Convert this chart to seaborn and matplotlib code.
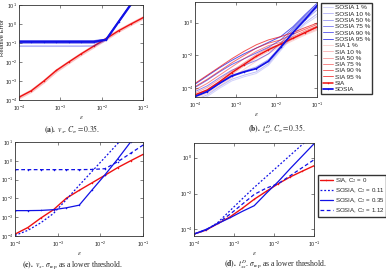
import numpy as np
import pandas as pd
import matplotlib
matplotlib.use("Agg")
import matplotlib.pyplot as plt
import seaborn as sns

# ---- data ----
# step sizes epsilon
eps = [1e-4, 2e-4, 4e-4, 8e-4, 1.6e-3, 3.2e-3, 6.4e-3, 1.28e-2, 2.56e-2, 5.12e-2, 1.024e-1]

# (a) relative error of v_x, C_sigma = 0.35
sia_a = [1.4e-4, 3.1e-4, 1.0e-3, 3.6e-3, 1.0e-2, 2.7e-2, 6.8e-2, 0.17, 0.44, 1.0, 2.2]
sia_a_band = [1.3e-4, 2.9e-4, 0.9e-3, 3.3e-3, 0.92e-2, 2.5e-2, 6.3e-2, 0.16, 0.42, 0.95, 2.1]
sosia_a = [0.115, 0.115, 0.115, 0.115, 0.115, 0.115, 0.115, 0.15, 1.3, 11.0, 100.0]
sosia_a_lo = [0.068, 0.068, 0.068, 0.068, 0.068, 0.068, 0.07, 0.14, 1.2, 10.0, 90.0]
sosia_a_mid = [0.10, 0.10, 0.10, 0.10, 0.10, 0.10, 0.10, 0.145, 1.25, 10.5, 95.0]
sosia_a_hi = [0.13, 0.13, 0.13, 0.13, 0.13, 0.13, 0.13, 0.155, 1.35, 11.5, 105.0]

# (b) t^D_xx, C_sigma = 0.35 -- values given as log10 exponents
pct = ["1", "10", "50", "75", "90", "95"]
sosia_b_pct = [
    [-4.8, -4.5, -4.0, -3.55, -3.3, -3.1, -2.6, -1.7, -0.8, -0.1, 0.4],
    [-4.7, -4.4, -3.9, -3.45, -3.2, -3.0, -2.5, -1.6, -0.7, 0.0, 0.55],
    [-4.5, -4.15, -3.65, -3.2, -2.95, -2.7, -2.25, -1.45, -0.6, 0.15, 0.8],
    [-4.2, -3.85, -3.35, -2.9, -2.6, -2.3, -1.9, -1.25, -0.45, 0.3, 0.95],
    [-3.95, -3.5, -3.0, -2.55, -2.2, -1.85, -1.5, -1.05, -0.35, 0.4, 1.1],
    [-3.75, -3.25, -2.75, -2.3, -1.9, -1.55, -1.2, -0.85, -0.25, 0.5, 1.2],
]
sia_b_pct = [
    [-4.6, -4.3, -3.85, -3.35, -2.85, -2.35, -1.9, -1.45, -1.1, -0.75, -0.45],
    [-4.45, -4.15, -3.65, -3.15, -2.65, -2.15, -1.75, -1.38, -1.02, -0.68, -0.38],
    [-4.3, -3.95, -3.45, -2.95, -2.45, -1.95, -1.55, -1.3, -0.95, -0.6, -0.3],
    [-4.1, -3.7, -3.2, -2.7, -2.2, -1.75, -1.4, -1.2, -0.85, -0.5, -0.2],
    [-3.9, -3.45, -2.95, -2.45, -2.0, -1.55, -1.25, -1.05, -0.7, -0.4, -0.1],
    [-3.7, -3.2, -2.7, -2.2, -1.75, -1.35, -1.05, -0.85, -0.6, -0.3, -0.02],
]
sia_b = [-4.4, -4.1, -3.6, -3.05, -2.55, -2.05, -1.65, -1.3, -0.95, -0.6, -0.25]
sosia_b = [-4.5, -4.2, -3.7, -3.25, -3.0, -2.8, -2.35, -1.5, -0.6, 0.2, 1.05]

# (c) v_x, sigma_rep as lower threshold (log10)
sia_c = [-3.9, -3.55, -3.05, -2.6, -1.99, -1.57, -1.17, -0.77, -0.36, 0.0, 0.35]
sosia_c_011 = [-3.97, -3.7, -3.3, -2.8, -2.06, -1.3, -0.56, 0.18, 0.92, 1.66, 2.4]
sosia_c_035 = [-2.65, -2.65, -2.64, -2.6, -2.5, -2.36, -1.55, -0.75, 0.1, 1.0, 1.9]
sosia_c_112 = [-0.47, -0.47, -0.47, -0.47, -0.47, -0.47, -0.46, -0.42, -0.05, 0.4, 0.85]

# (d) t^D_xx, sigma_rep as lower threshold (log10)
sia_d = [-4.26, -4.04, -3.67, -3.3, -2.83, -2.32, -1.88, -1.45, -1.07, -0.75, -0.44]
sosia_d_011 = [-4.26, -4.05, -3.6, -2.95, -2.3, -1.66, -1.06, -0.46, 0.14, 0.74, 1.34]
sosia_d_035 = [-4.26, -4.0, -3.67, -3.35, -3.0, -2.68, -1.99, -1.33, -0.6, 0.1, 0.8]
sosia_d_112 = [-4.26, -4.03, -3.64, -3.15, -2.6, -2.05, -1.7, -1.45, -1.0, -0.55, -0.1]

RED = "#ee1111"
BLUE = "#1111e6"

sns.set_style("ticks")
plt.rcParams["font.family"] = ["Liberation Sans", "DejaVu Sans"]
plt.rcParams["mathtext.fontset"] = "stix"
plt.rcParams["xtick.direction"] = "in"
plt.rcParams["ytick.direction"] = "in"
plt.rcParams["xtick.major.size"] = 2
plt.rcParams["ytick.major.size"] = 2
plt.rcParams["xtick.major.width"] = 0.4
plt.rcParams["ytick.major.width"] = 0.4
plt.rcParams["axes.linewidth"] = 0.6

W, H = 386, 270
fig = plt.figure(figsize=(W / 100, H / 100), dpi=100)


def box(l, t, r, b):
    return [l / W, 1 - b / H, (r - l) / W, (b - t) / H]


def line(ax, y, color, lw=0.9, ls="-", marker=None, alpha=1.0, label=None, log=False):
    yy = np.power(10.0, y) if log else np.asarray(y)
    sns.lineplot(x=eps, y=yy, ax=ax, color=color, linewidth=lw, linestyle=ls,
                 marker=marker, markersize=2.2, markeredgewidth=0, alpha=alpha,
                 label=label, legend=False, estimator=None, sort=False)


def style(ax, ylim, yticks):
    ax.set_xscale("log")
    ax.set_yscale("log")
    ax.set_xlim(1e-4, 1e-1)
    ax.set_ylim(*ylim)
    ax.set_xticks([1e-4, 1e-3, 1e-2, 1e-1])
    ax.set_yticks(yticks)
    ax.minorticks_off()
    ax.tick_params(labelsize=3.9, pad=1.5, top=True, right=True)
    ax.tick_params(axis="x", pad=2.6)
    ax.set_xlabel(r"$\epsilon$", fontsize=5, labelpad=1)
    ax.set_ylabel("")
    for s in ax.spines.values():
        s.set_color("#333333")


# (a)
ax_a = fig.add_axes(box(19, 5, 143, 100))
line(ax_a, sia_a_band, RED, lw=2.4, alpha=0.25)
line(ax_a, sia_a, RED, lw=1.0, marker=".")
line(ax_a, sosia_a_lo, BLUE, lw=1.2, alpha=0.3)
line(ax_a, sosia_a_mid, BLUE, lw=1.0, alpha=0.6)
line(ax_a, sosia_a_hi, BLUE, lw=1.0, alpha=0.7)
line(ax_a, sosia_a, BLUE, lw=1.5, marker=".")
style(ax_a, (1e-4, 1e1), [1e-4, 1e-3, 1e-2, 1e-1, 1e0, 1e1])
fig.text(0.5 / W, 1 - 38 / H, "Relative Error", rotation=90, fontsize=4.3,
         ha="left", va="center")

# (b)
ax_b = fig.add_axes(box(195, 2, 317, 97))
alphas = [0.18, 0.28, 0.38, 0.5, 0.62, 0.72]
for p, ys, a in zip(pct, sosia_b_pct, alphas):
    line(ax_b, ys, BLUE, lw=0.7, alpha=a, label=f"SOSIA {p} %", log=True)
for p, ys, a in zip(pct, sia_b_pct, alphas):
    line(ax_b, ys, RED, lw=0.7, alpha=a, label=f"SIA {p} %", log=True)
line(ax_b, sia_b, RED, lw=1.1, marker=".", label="SIA", log=True)
line(ax_b, sosia_b, BLUE, lw=1.3, marker=".", label="SOSIA", log=True)
style(ax_b, (10 ** -4.53, 10 ** 1.26), [1e-4, 1e-2, 1e0])
h, l = ax_b.get_legend_handles_labels()
fig.legend(h, l, loc="upper left", bbox_to_anchor=(321 / W, 1 - 3 / H),
           fontsize=4.6, frameon=True, fancybox=False, edgecolor="#333333",
           framealpha=1, handlelength=1.5, handletextpad=0.4, labelspacing=0.13,
           borderpad=0.3, borderaxespad=0)

# (c)
ax_c = fig.add_axes(box(15, 142, 143, 236))
line(ax_c, sia_c, RED, lw=1.0, marker=".", log=True)
line(ax_c, sosia_c_011, BLUE, lw=0.9, ls=(0, (1.5, 1.5)), log=True)
line(ax_c, sosia_c_035, BLUE, lw=0.9, marker=".", log=True)
line(ax_c, sosia_c_112, BLUE, lw=0.9, ls=(0, (3, 2)), marker=".", log=True)
style(ax_c, (1e-4, 1e1), [1e-4, 1e-3, 1e-2, 1e-1, 1e0, 1e1])

# (d)
ax_d = fig.add_axes(box(194, 143, 314, 236))
line(ax_d, sia_d, RED, lw=1.0, marker=".", label=r"SIA, C$_2$ = 0", log=True)
line(ax_d, sosia_d_011, BLUE, lw=0.9, ls=(0, (1.5, 1.5)), label=r"SOSIA, C$_2$ = 0.11", log=True)
line(ax_d, sosia_d_035, BLUE, lw=0.9, label=r"SOSIA, C$_2$ = 0.35", log=True)
line(ax_d, sosia_d_112, BLUE, lw=0.9, ls=(0, (3, 2)), label=r"SOSIA, C$_2$ = 1.12", log=True)
style(ax_d, (10 ** -4.37, 10 ** 0.82), [1e-4, 1e-2, 1e0])
h, l = ax_d.get_legend_handles_labels()
fig.legend(h, l, loc="upper left", bbox_to_anchor=(318 / W, 1 - 175 / H),
           fontsize=4.4, frameon=True, fancybox=False, edgecolor="#333333",
           framealpha=1, handlelength=2.2, handletextpad=0.3, labelspacing=0.2,
           borderpad=0.25, borderaxespad=0)

# captions
cap = dict(fontsize=5.5, family=["Liberation Serif", "DejaVu Serif"], ha="center", va="baseline")
fig.text(72 / W, 1 - 132 / H, r"$\mathbf{(a).}$ $v_x$. $C_\sigma = 0.35$.", **cap)
fig.text(277 / W, 1 - 132 / H, r"$\mathbf{(b).}$ $t^D_{xx}$. $C_\sigma = 0.35$.", **cap)
fig.text(72 / W, 1 - 267 / H, r"$\mathbf{(c).}$ $v_x$. $\sigma_{\mathrm{rep}}$ as a lower threshold.", **cap)
fig.text(275 / W, 1 - 267 / H, r"$\mathbf{(d).}$ $t^D_{xx}$. $\sigma_{\mathrm{rep}}$ as a lower threshold.", **cap)

fig.savefig("out.png", dpi=100)
